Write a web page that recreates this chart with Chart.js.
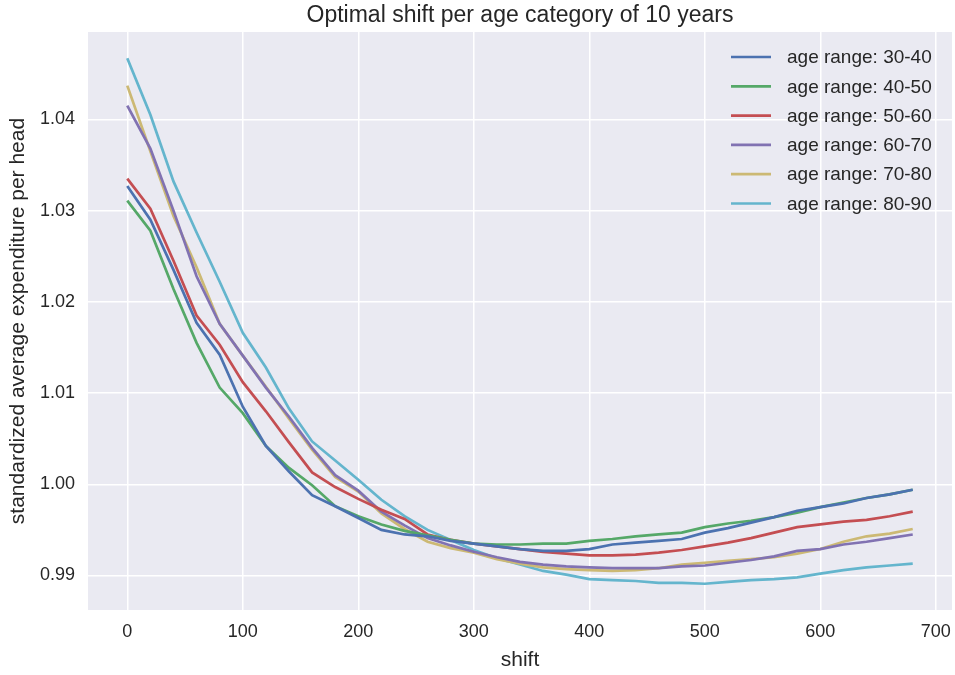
<!doctype html>
<html lang="en">
<head>
    <meta charset="UTF-8">
    <title>Optimal shift per age category</title>
    <script src="https://cdn.jsdelivr.net/npm/chart.js"></script>
    <style>
        body { margin: 0; background: #fff; }
        canvas { display: block; }
    </style>
</head>
<body>
<canvas id="shiftChart" width="955" height="675"></canvas>
<script>
  const shifts = [0, 20, 40, 60, 80, 100, 120, 140, 160, 180, 200, 220, 240, 260, 280, 300, 320, 340,
    360, 380, 400, 420, 440, 460, 480, 500, 520, 540, 560, 580, 600, 620, 640, 660, 680];

  const age30to40 = [1.0327, 1.0290, 1.0235, 1.0177, 1.0142, 1.0085, 1.0042, 1.0014, 0.9988, 0.9976,
    0.9963, 0.9950, 0.9945, 0.9943, 0.9938, 0.9935, 0.9932, 0.9929, 0.9927, 0.9927, 0.9929, 0.9934,
    0.9936, 0.9938, 0.9940, 0.9947, 0.9952, 0.9958, 0.9964, 0.9971, 0.9975, 0.9979, 0.9985, 0.9989, 0.9994];
  const age40to50 = [1.0311, 1.0278, 1.0214, 1.0155, 1.0106, 1.0078, 1.0042, 1.0018, 0.9999, 0.9976,
    0.9965, 0.9956, 0.9949, 0.9944, 0.9939, 0.9935, 0.9934, 0.9934, 0.9935, 0.9935, 0.9938, 0.9940,
    0.9943, 0.9945, 0.9947, 0.9953, 0.9957, 0.9960, 0.9964, 0.9969, 0.9975, 0.9980, 0.9985, 0.9989, 0.9994];
  const age50to60 = [1.0335, 1.0302, 1.0245, 1.0185, 1.0153, 1.0112, 1.0080, 1.0046, 1.0013, 0.9997,
    0.9984, 0.9972, 0.9962, 0.9945, 0.9939, 0.9935, 0.9932, 0.9929, 0.9926, 0.9924, 0.9922, 0.9922,
    0.9923, 0.9925, 0.9928, 0.9932, 0.9936, 0.9941, 0.9947, 0.9953, 0.9956, 0.9959, 0.9961, 0.9965, 0.9970];
  const age60to70 = [1.0415, 1.0368, 1.0300, 1.0228, 1.0176, 1.0141, 1.0106, 1.0074, 1.0040, 1.0010,
    0.9993, 0.9970, 0.9955, 0.9941, 0.9933, 0.9926, 0.9920, 0.9915, 0.9912, 0.9910, 0.9909, 0.9908,
    0.9908, 0.9908, 0.9910, 0.9911, 0.9914, 0.9917, 0.9921, 0.9927, 0.9929, 0.9934, 0.9937, 0.9941, 0.9945];
  const age70to80 = [1.0437, 1.0365, 1.0294, 1.0238, 1.0176, 1.0141, 1.0107, 1.0072, 1.0038, 1.0008,
    0.9992, 0.9968, 0.9951, 0.9937, 0.9930, 0.9925, 0.9918, 0.9913, 0.9909, 0.9907, 0.9906, 0.9905,
    0.9906, 0.9908, 0.9912, 0.9914, 0.9916, 0.9918, 0.9920, 0.9924, 0.9929, 0.9937, 0.9943, 0.9946, 0.9951];
  const age80to90 = [1.0467, 1.0405, 1.0332, 1.0276, 1.0222, 1.0166, 1.0128, 1.0083, 1.0047, 1.0026,
    1.0005, 0.9983, 0.9965, 0.9950, 0.9939, 0.9928, 0.9919, 0.9912, 0.9905, 0.9901, 0.9896, 0.9895,
    0.9894, 0.9892, 0.9892, 0.9891, 0.9893, 0.9895, 0.9896, 0.9898, 0.9902, 0.9906, 0.9909, 0.9911, 0.9913];

  const seriesLabels = ['age range: 30-40', 'age range: 40-50', 'age range: 50-60',
    'age range: 60-70', 'age range: 70-80', 'age range: 80-90'];
  const seriesColors = ['#4C72B0', '#55A868', '#C44E52', '#8172B2', '#CCB974', '#64B5CD'];
  const allSeries = [age30to40, age40to50, age50to60, age60to70, age70to80, age80to90];

  const xTicks = [0, 100, 200, 300, 400, 500, 600, 700];
  const yTicks = [0.99, 1.00, 1.01, 1.02, 1.03, 1.04];

  const textColor = '#262626';
  const fontFamily = '"Liberation Sans", Arial, sans-serif';

  // grey panel behind the grid, seaborn darkgrid style
  const panelBackground = {
    id: 'panelBackground',
    beforeDraw(chart) {
      const {ctx, chartArea: a} = chart;
      ctx.save();
      ctx.fillStyle = '#EAEAF2';
      ctx.fillRect(a.left, a.top, a.right - a.left, a.bottom - a.top);
      ctx.restore();
    }
  };

  // frameless legend in the upper right corner of the panel
  const cornerLegend = {
    id: 'cornerLegend',
    afterDraw(chart) {
      const {ctx, chartArea: a} = chart;
      ctx.save();
      ctx.font = '19px ' + fontFamily;
      ctx.textBaseline = 'middle';
      ctx.lineWidth = 2.7;
      chart.data.datasets.forEach((ds, i) => {
        const y = a.top + 25 + i * 29.3;
        ctx.strokeStyle = ds.borderColor;
        ctx.beginPath();
        ctx.moveTo(a.right - 221, y);
        ctx.lineTo(a.right - 181, y);
        ctx.stroke();
        ctx.fillStyle = textColor;
        ctx.fillText(ds.label, a.right - 165, y + 1);
      });
      ctx.restore();
    }
  };

  new Chart(document.getElementById('shiftChart'), {
    type: 'line',
    data: {
      datasets: allSeries.map((values, i) => ({
        label: seriesLabels[i],
        data: shifts.map((s, j) => ({x: s, y: values[j]})),
        borderColor: seriesColors[i],
        borderWidth: 2.7,
        pointRadius: 0,
        tension: 0,
        fill: false
      }))
    },
    options: {
      responsive: false,
      animation: false,
      devicePixelRatio: 1,
      layout: {padding: {left: 0, right: 3, top: 0, bottom: 0}},
      plugins: {
        legend: {display: false},
        tooltip: {enabled: false},
        title: {
          display: true,
          fullSize: false,
          text: 'Optimal shift per age category of 10 years',
          color: textColor,
          font: {family: fontFamily, size: 23, weight: 'normal'},
          padding: {top: 2, bottom: 2.4}
        }
      },
      scales: {
        x: {
          type: 'linear',
          min: -34,
          max: 714,
          afterBuildTicks: (scale) => { scale.ticks = xTicks.map(v => ({value: v})); },
          afterFit: (scale) => {
            scale.height = 65;
            scale.paddingLeft = 0;
            scale.paddingRight = 0;
          },
          ticks: {
            color: textColor,
            font: {family: fontFamily, size: 18},
            padding: 11,
            maxRotation: 0
          },
          grid: {color: '#FFFFFF', lineWidth: 1.5, drawTicks: false},
          border: {display: false},
          title: {
            display: true,
            text: 'shift',
            color: textColor,
            font: {family: fontFamily, size: 21},
            padding: {top: 2.4, bottom: 2.4}
          }
        },
        y: {
          type: 'linear',
          min: 0.98622,
          max: 1.04958,
          afterBuildTicks: (scale) => { scale.ticks = yTicks.map(v => ({value: v})); },
          afterFit: (scale) => {
            scale.width = 88;
            scale.paddingTop = 0;
            scale.paddingBottom = 0;
          },
          ticks: {
            color: textColor,
            font: {family: fontFamily, size: 18},
            padding: 13,
            callback: (v) => v.toFixed(2)
          },
          grid: {color: '#FFFFFF', lineWidth: 1.5, drawTicks: false},
          border: {display: false},
          title: {
            display: true,
            text: 'standardized average expenditure per head',
            color: textColor,
            font: {family: fontFamily, size: 21},
            padding: {top: 5.4, bottom: 5.4}
          }
        }
      }
    },
    plugins: [panelBackground, cornerLegend]
  });
</script>
</body>
</html>
